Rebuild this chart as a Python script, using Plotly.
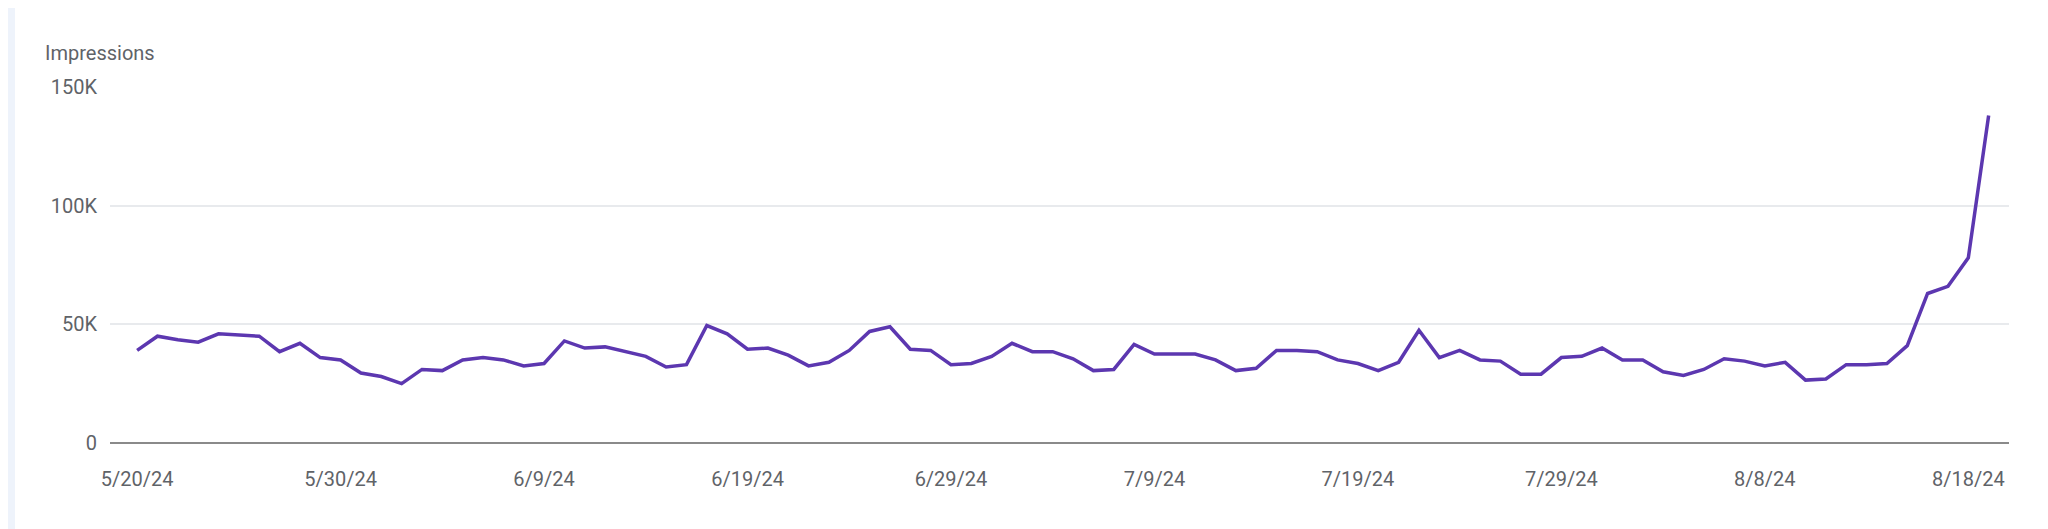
import plotly.graph_objects as go
import pandas as pd

start_date = "2024-05-20"
impressions = [39000, 45000, 43500, 42500, 46000, 45500, 45000, 38500, 42000, 36000,
               35000, 29500, 28000, 25000, 31000, 30500, 35000, 36000, 35000, 32500,
               33500, 43000, 40000, 40500, 38500, 36500, 32000, 33000, 49500, 46000,
               39500, 40000, 37000, 32500, 34000, 39000, 47000, 49000, 39500, 39000,
               33000, 33500, 36500, 42000, 38500, 38500, 35500, 30500, 31000, 41500,
               37500, 37500, 37500, 35000, 30500, 31500, 39000, 39000, 38500, 35000,
               33500, 30500, 34000, 47500, 36000, 39000, 35000, 34500, 29000, 29000,
               36000, 36500, 40000, 35000, 35000, 30000, 28500, 31000, 35500, 34500,
               32500, 34000, 26500, 27000, 33000, 33000, 33500, 41000, 63000, 66000,
               78000, 138000]
dates = pd.date_range(start_date, periods=len(impressions), freq="D")

x_tick_dates = ["2024-05-20", "2024-05-30", "2024-06-09", "2024-06-19", "2024-06-29",
                "2024-07-09", "2024-07-19", "2024-07-29", "2024-08-08", "2024-08-18"]
x_tick_labels = ["5/20/24", "5/30/24", "6/9/24", "6/19/24", "6/29/24",
                 "7/9/24", "7/19/24", "7/29/24", "8/8/24", "8/18/24"]
y_tick_vals = [0, 50000, 100000, 150000]
y_tick_labels = ["0", "50K", "100K", "150K"]

L, R = 102, 47
PW = 2048 - L - R

fig = go.Figure(go.Scatter(x=dates, y=impressions, mode="lines",
                           line=dict(color="#5c37b0", width=3.5), hoverinfo="x+y"))

fig.update_layout(
    width=2048, height=529,
    margin=dict(l=L, r=R, t=79, b=94),
    paper_bgcolor="white", plot_bgcolor="white",
    font=dict(family="Roboto", size=20, color="#5f6368"),
    showlegend=False,
    xaxis=dict(range=["2024-05-18 16:00", "2024-08-20 00:00"],
               tickvals=x_tick_dates, ticktext=x_tick_labels,
               showgrid=False, zeroline=False, showline=False, ticks="",
               ticklabelstandoff=22, tickfont=dict(size=20, color="#5f6368")),
    yaxis=dict(range=[0, 150000], tickvals=y_tick_vals, ticktext=y_tick_labels,
               showgrid=True, gridcolor="#e8eaed", gridwidth=1.5,
               zeroline=True, zerolinecolor="#8a8a8a", zerolinewidth=2,
               ticks="", ticklabelstandoff=12,
               tickfont=dict(size=20, color="#5f6368")),
    annotations=[dict(text="Impressions", xref="paper", yref="paper",
                      x=(35 - L) / PW, y=1.0, xanchor="left", yanchor="bottom",
                      yshift=20, showarrow=False,
                      font=dict(size=20, color="#5f6368", family="Roboto"))],
    shapes=[dict(type="rect", xref="paper", yref="paper",
                 x0=-L / PW, x1=(7 - L) / PW, y0=-0.3, y1=1.3,
                 fillcolor="#eef3fb", line=dict(width=0), layer="below")],
)

fig.write_html("out.html")
